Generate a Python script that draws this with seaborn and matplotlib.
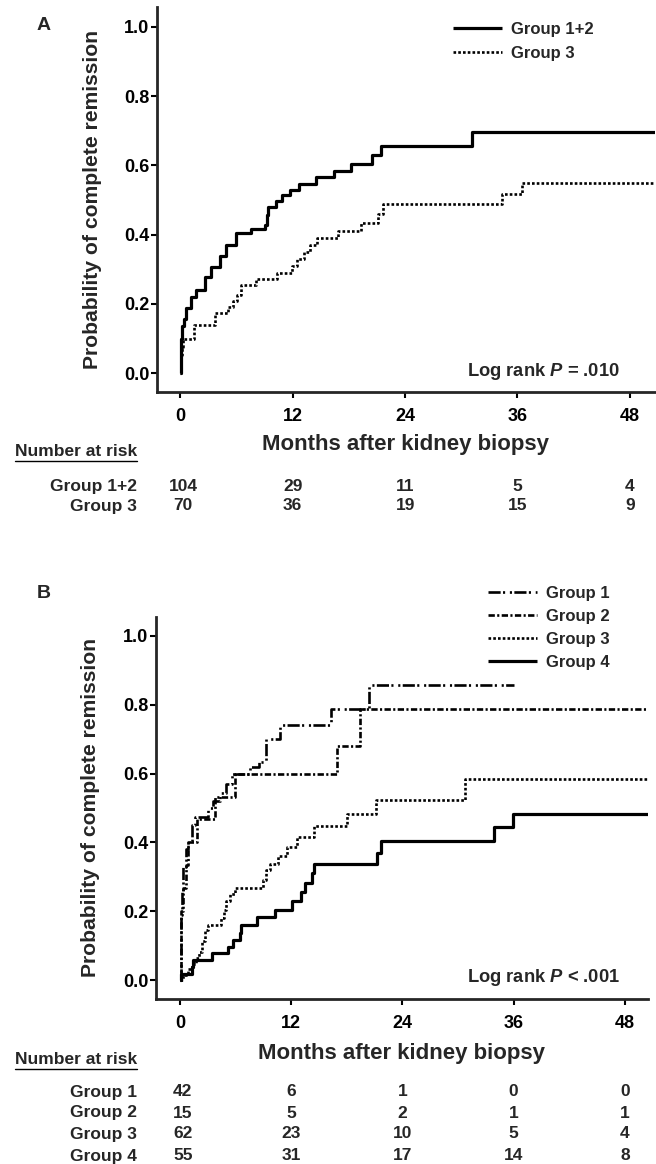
import numpy as np
import pandas as pd
import matplotlib
matplotlib.use("Agg")
import matplotlib.pyplot as plt
import matplotlib.transforms as mtransforms
from matplotlib.lines import Line2D
import seaborn as sns

# ---------------- data ----------------
# Panel A (Kaplan-Meier, months vs probability of complete remission)
A_g12_t = [0, 0.05, 0.10, 0.15, 0.35, 0.65, 1.1, 1.7, 2.6, 3.3, 4.2, 4.9, 5.9, 7.5, 9.0, 9.2, 9.4,
           10.2, 10.8, 11.7, 12.7, 14.5, 16.4, 18.2, 20.5, 21.4, 31.1, 51]
A_g12_p = [0, 0.05, 0.10, 0.136, 0.156, 0.187, 0.221, 0.24, 0.277, 0.308, 0.338, 0.37, 0.404, 0.415,
           0.427, 0.457, 0.48, 0.497, 0.514, 0.53, 0.547, 0.565, 0.585, 0.605, 0.63, 0.657, 0.695, 0.695]
A_g3_t = [0, 0.1, 0.2, 0.3, 1.5, 3.7, 5.1, 5.6, 6.0, 6.5, 8.1, 10.3, 11.9, 12.5, 13.2, 13.8, 14.6,
          16.8, 19.3, 21.1, 21.6, 34.4, 36.5, 51]
A_g3_p = [0, 0.053, 0.077, 0.10, 0.14, 0.173, 0.192, 0.21, 0.226, 0.255, 0.272, 0.29, 0.31, 0.33,
          0.35, 0.37, 0.39, 0.411, 0.434, 0.46, 0.488, 0.517, 0.549, 0.549]

# Panel B
B_g1_t = [0, 0.05, 0.1, 0.2, 0.35, 0.6, 0.9, 1.3, 1.6, 3.0, 3.5, 4.3, 5.0, 5.6, 7.5, 8.5, 9.3, 10.8,
          16.3, 20.4, 36.0]
B_g1_p = [0, 0.12, 0.19, 0.26, 0.33, 0.38, 0.405, 0.45, 0.475, 0.50, 0.52, 0.545, 0.57, 0.60, 0.62,
          0.635, 0.70, 0.74, 0.787, 0.857, 0.857]
B_g2_t = [0, 0.05, 0.3, 0.6, 0.9, 1.8, 3.8, 5.9, 16.9, 19.4, 51]
B_g2_p = [0, 0.2, 0.267, 0.333, 0.4, 0.467, 0.533, 0.6, 0.68, 0.787, 0.787]
B_g3_t = [0, 0.3, 0.8, 1.3, 1.7, 2.0, 2.4, 2.7, 3.0, 4.4, 4.7, 5.0, 5.4, 5.9, 9.0, 9.3, 9.7, 10.6,
          11.5, 12.6, 14.4, 18.0, 21.1, 30.7, 51]
B_g3_p = [0, 0.016, 0.032, 0.048, 0.065, 0.081, 0.113, 0.145, 0.16, 0.18, 0.203, 0.23, 0.25, 0.267,
          0.29, 0.32, 0.337, 0.36, 0.388, 0.417, 0.448, 0.483, 0.523, 0.584, 0.584]
B_g4_t = [0, 0.1, 1.3, 1.4, 3.4, 5.2, 5.7, 6.5, 6.6, 8.3, 10.25, 12.05, 13.1, 13.5, 14.2, 14.5, 21.2,
          21.7, 33.9, 35.9, 51]
B_g4_p = [0, 0.019, 0.038, 0.058, 0.078, 0.097, 0.117, 0.138, 0.16, 0.182, 0.203, 0.23, 0.257, 0.283,
          0.31, 0.337, 0.368, 0.404, 0.445, 0.483, 0.483]

groups_A = ["Group 1+2", "Group 3"]
groups_B = ["Group 1", "Group 2", "Group 3", "Group 4"]
xticks = [0, 12, 24, 36, 48]
yticks = [0.0, 0.2, 0.4, 0.6, 0.8, 1.0]
risk_A = {"Group 1+2": [104, 29, 11, 5, 4], "Group 3": [70, 36, 19, 15, 9]}
risk_B = {"Group 1": [42, 6, 1, 0, 0], "Group 2": [15, 5, 2, 1, 1],
          "Group 3": [62, 23, 10, 5, 4], "Group 4": [55, 31, 17, 14, 8]}
pval_A = "Log rank $P$ = .010"
pval_B = "Log rank $P$ < .001"

# ---------------- style ----------------
sns.set_style("ticks")
plt.rcParams["font.family"] = ["Liberation Sans", "DejaVu Sans"]
plt.rcParams["font.weight"] = "bold"
plt.rcParams["axes.labelweight"] = "bold"
plt.rcParams["mathtext.fontset"] = "custom"
plt.rcParams["mathtext.it"] = "Liberation Sans:italic:bold"
plt.rcParams["mathtext.rm"] = "Liberation Sans:bold"
plt.rcParams["mathtext.bf"] = "Liberation Sans:bold"

W, H = 656, 1164
fig = plt.figure(figsize=(W / 100, H / 100), dpi=100)


def fx(px):
    return px / W


def fy(py):
    return 1 - py / H


dash_style = {
    "Group 1+2": "",
    "Group 3": (1, 0.8),
    "Group 1": (4.6, 0.9, 0.8, 1.8, 0.8, 0.9),
    "Group 2": (2.4, 0.9, 0.8, 0.9),
    "Group 4": "",
}
lw_map = {"Group 1+2": 2.3, "Group 3": 1.9, "Group 1": 1.9, "Group 2": 1.9, "Group 4": 2.3}


def make_df(series):
    rows = []
    for g, (t, p) in series.items():
        for ti, pi in zip(t, p):
            rows.append((g, ti, pi))
    return pd.DataFrame(rows, columns=["group", "t", "p"])


def draw_panel(ax, series, groups, xlim, ylim, ylabel_x, legend_anchor, legend_spacing, pval, pval_y,
               risk, risk_head_y, risk_rows_y, letter, letter_y, xlabel_y):
    df = make_df(series)
    sns.lineplot(data=df, x="t", y="p", hue="group", style="group", hue_order=groups,
                 style_order=groups, palette={g: "black" for g in groups},
                 dashes={g: dash_style[g] for g in groups}, drawstyle="steps-post",
                 estimator=None, sort=False, legend=False, ax=ax, linewidth=1.9)
    for line, g in zip(ax.lines, groups):
        line.set_linewidth(lw_map[g])
        line.set_solid_capstyle("butt")
        line.set_dash_capstyle("butt")
    ax.set_xlim(*xlim)
    ax.set_ylim(*ylim)
    ax.set_xticks(xticks)
    ax.set_yticks(yticks)
    ax.set_yticklabels([f"{v:.1f}" for v in yticks])
    sns.despine(ax=ax)
    for s in ["left", "bottom"]:
        ax.spines[s].set_linewidth(2.0)
    ax.tick_params(axis="both", direction="out", length=4.5, width=1.5, labelsize=13, colors="black")
    ax.tick_params(axis="y", pad=1)
    ax.tick_params(axis="x", pad=7)
    for lab in ax.get_xticklabels() + ax.get_yticklabels():
        lab.set_fontweight("bold")
    ax.set_xlabel("Months after kidney biopsy", fontsize=16, fontweight="bold")
    ax.set_ylabel("Probability of complete remission", fontsize=15.2, fontweight="bold")
    ax.xaxis.label.set_va("center")
    ax.yaxis.label.set_va("center")
    bb = ax.get_position()
    ax.xaxis.set_label_coords(0.5, -(xlabel_y - (1 - bb.y0) * H) / (bb.height * H))
    ax.yaxis.set_label_coords(-(bb.x0 * W - ylabel_x) / (bb.width * W), 0.5)

    ax.legend(ax.lines[:len(groups)], groups, loc="upper left",
              bbox_to_anchor=legend_anchor, bbox_transform=fig.transFigure, frameon=False,
              borderpad=0, borderaxespad=0, handlelength=2.95, handletextpad=0.55,
              labelspacing=legend_spacing, prop={"size": 12, "weight": "bold"})

    fig.text(fx(620), fy(pval_y), pval, ha="right", va="center", fontsize=13.2, fontweight="bold")
    fig.text(fx(44), fy(letter_y), letter, ha="center", va="center", fontsize=14, fontweight="bold")

    tr = mtransforms.blended_transform_factory(ax.transData, fig.transFigure)
    head = fig.text(fx(15), fy(risk_head_y), "Number at risk", ha="left", va="center",
                    fontsize=12.5, fontweight="bold")
    for (g, vals), ry in zip(risk.items(), risk_rows_y):
        fig.text(fx(137), fy(ry), g, ha="right", va="center", fontsize=12.5, fontweight="bold")
        for xv, v in zip(xticks, vals):
            fig.text(xv + (0.3 if xv == 0 else 0), fy(ry), str(v), transform=tr, ha="center",
                     va="center", fontsize=12.5, fontweight="bold")
    return head


axA = fig.add_axes([fx(157), fy(392), fx(655) - fx(157), (392 - 7) / H])
headA = draw_panel(axA, {"Group 1+2": (A_g12_t, A_g12_p), "Group 3": (A_g3_t, A_g3_p)}, groups_A,
                   (-2.5, 50.7), (-0.054, 1.057), 93, (fx(453), fy(22)), 0.55, pval_A, 372,
                   risk_A, 452, [486, 506], "A", 25, 445)

axB = fig.add_axes([fx(156), fy(999), fx(648) - fx(156), (999 - 617) / H])
headB = draw_panel(axB, {"Group 1": (B_g1_t, B_g1_p), "Group 2": (B_g2_t, B_g2_p),
                         "Group 3": (B_g3_t, B_g3_p), "Group 4": (B_g4_t, B_g4_p)}, groups_B,
                   (-2.6, 50.5), (-0.055, 1.055), 91, (fx(488), fy(586)), 0.48, pval_B, 977,
                   risk_B, 1060, [1092, 1113, 1134, 1156], "B", 593, 1053)

# underline "Number at risk"
fig.canvas.draw()
renderer = fig.canvas.get_renderer()
for head in (headA, headB):
    bb = head.get_window_extent(renderer)
    yline = (bb.y0 - 1) / H
    fig.add_artist(Line2D([bb.x0 / W, bb.x1 / W], [yline, yline], color="black", lw=1.0,
                          transform=fig.transFigure))

fig.savefig("out.png", dpi=100)
